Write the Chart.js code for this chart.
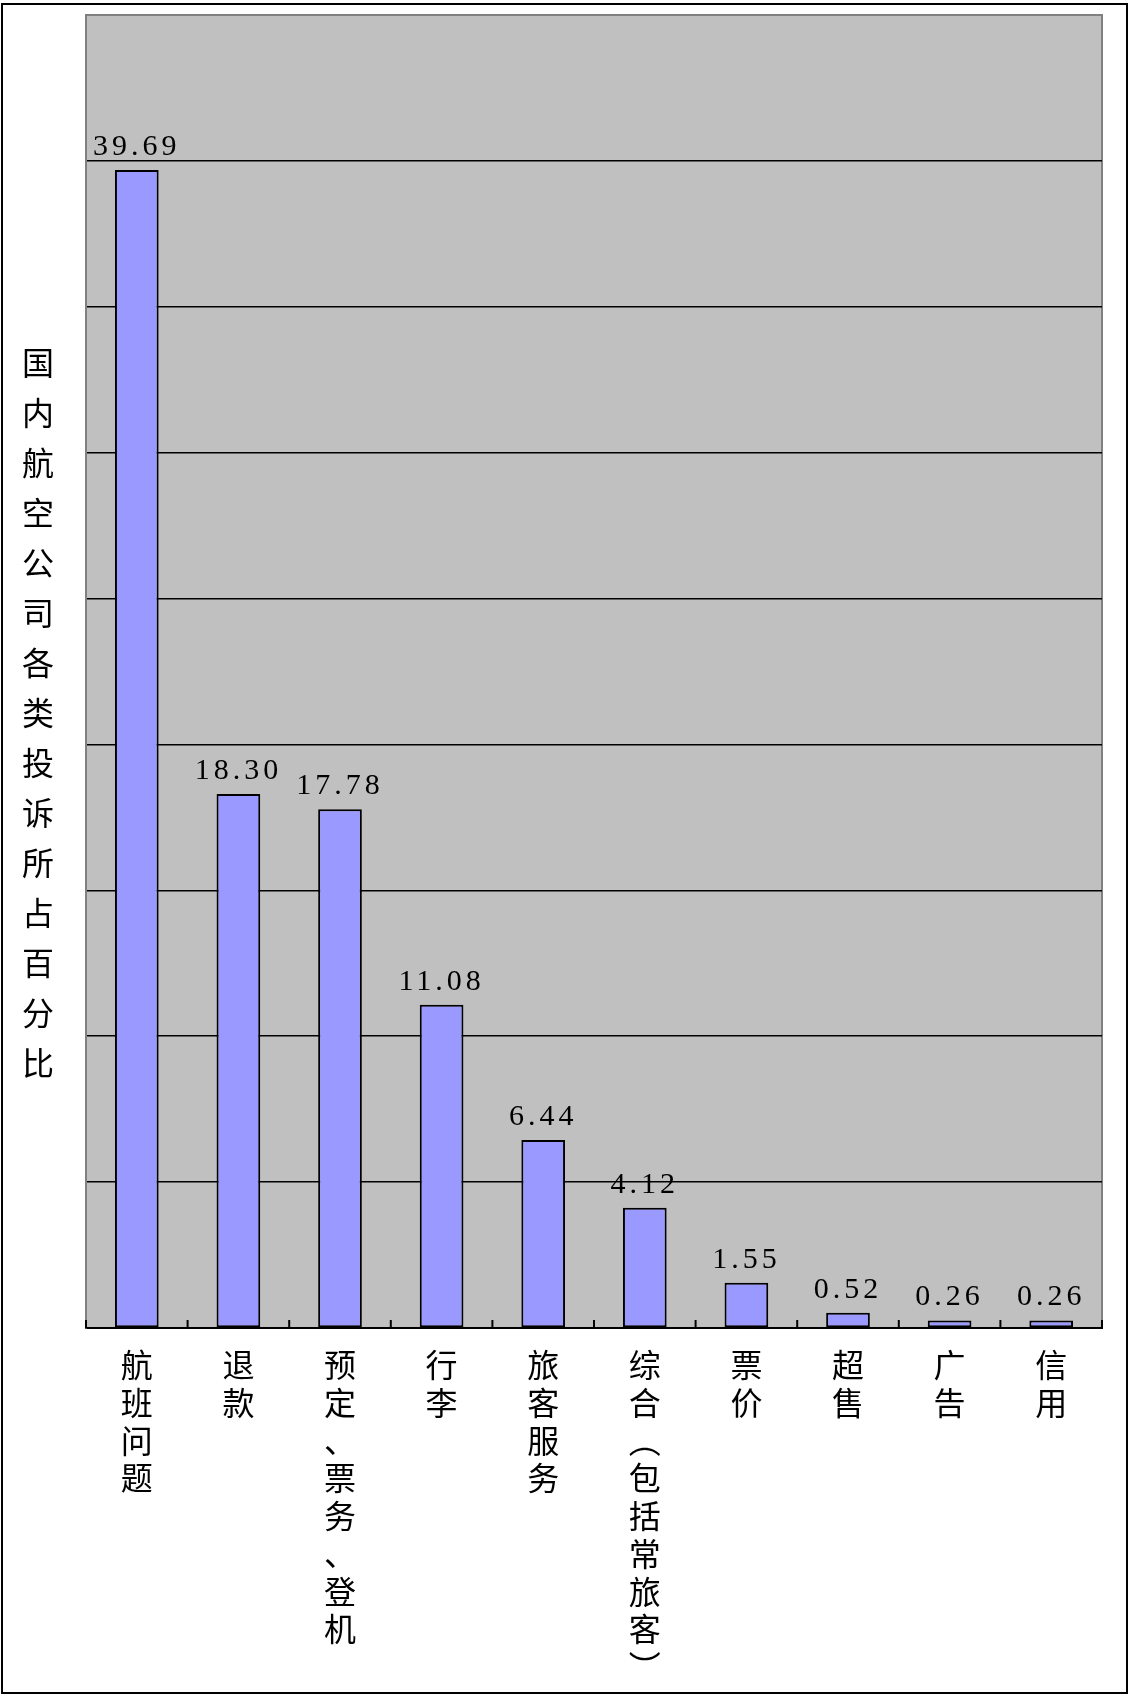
<!DOCTYPE html>
<html>
<head>
    <meta charset="utf-8">
    <title>国内航空公司各类投诉所占百分比</title>
    <script src="https://cdn.jsdelivr.net/npm/chart.js@4.4.0/dist/chart.umd.min.js"></script>
    <style>
        body {
            margin: 0;
            background: #fff;
        }
        .frame {
            position: absolute;
            left: 1px;
            top: 3px;
            width: 1127px;
            height: 1691px;
            box-sizing: border-box;
            border: 2px solid #000;
        }
        .chart-box {
            position: absolute;
            left: 0;
            top: 0;
            width: 1130px;
            height: 1695px;
        }
    </style>
</head>
<body>
    <div class="frame"></div>
    <div class="chart-box"><canvas id="complaintChart"></canvas></div>

    <script>
        // data
        const categories = ['航班问题', '退款', '预定、票务、登机', '行李', '旅客服务', '综合（包括常旅客）', '票价', '超售', '广告', '信用'];
        const values = [39.69, 18.30, 17.78, 11.08, 6.44, 4.12, 1.55, 0.52, 0.26, 0.26];
        const yTitle = '国内航空公司各类投诉所占百分比';
        const yMin = 0, yMax = 45, yStep = 5;

        const cjkFont = '"Noto Sans CJK SC", sans-serif';

        // stack the characters one per line, brackets turned to their vertical forms
        const verticalForms = { '（': '︵', '）': '︶' };
        const toVertical = s => Array.from(s).map(c => verticalForms[c] || c);

        const plotBg = {
            id: 'plotBg',
            beforeDraw(chart) {
                const { ctx, chartArea: a } = chart;
                ctx.save();
                ctx.fillStyle = '#C0C0C0';
                ctx.fillRect(a.left, a.top, a.width, a.height);
                ctx.strokeStyle = '#808080';
                ctx.lineWidth = 2;
                ctx.strokeRect(a.left, a.top, a.width, a.height);
                ctx.restore();
            }
        };

        // short ticks pointing up from the axis at category boundaries
        const innerTicks = {
            id: 'innerTicks',
            afterDraw(chart) {
                const { ctx } = chart;
                const x = chart.scales.x;
                const y = chart.scales.y;
                const step = x.getPixelForValue(1) - x.getPixelForValue(0);
                const base = y.getPixelForValue(0);
                ctx.save();
                ctx.strokeStyle = '#000';
                ctx.lineWidth = 2;
                for (let i = 0; i <= categories.length; i++) {
                    const px = x.getPixelForValue(i) - step / 2;
                    ctx.beginPath();
                    ctx.moveTo(px, base);
                    ctx.lineTo(px, base - 8);
                    ctx.stroke();
                }
                ctx.restore();
            }
        };

        const valueLabels = {
            id: 'valueLabels',
            afterDatasetsDraw(chart) {
                const { ctx } = chart;
                const meta = chart.getDatasetMeta(0);
                const spacing = 4;
                ctx.save();
                ctx.fillStyle = '#000';
                ctx.font = '30px "Liberation Serif", serif';
                ctx.letterSpacing = spacing + 'px';
                ctx.textAlign = 'center';
                ctx.textBaseline = 'alphabetic';
                meta.data.forEach((bar, i) => {
                    ctx.fillText(values[i].toFixed(2), bar.x + spacing / 2 - 2, bar.y - 15);
                });
                ctx.restore();
            }
        };

        const verticalTitle = {
            id: 'verticalTitle',
            afterDraw(chart) {
                const { ctx } = chart;
                ctx.save();
                ctx.fillStyle = '#000';
                ctx.font = '32px ' + cjkFont;
                ctx.textAlign = 'center';
                ctx.textBaseline = 'middle';
                Array.from(yTitle).forEach((c, i) => {
                    ctx.fillText(c, 38, 363 + i * 50);
                });
                ctx.restore();
            }
        };

        new Chart(document.getElementById('complaintChart'), {
            type: 'bar',
            data: {
                labels: categories.map(toVertical),
                datasets: [{
                    data: values,
                    backgroundColor: '#9999FF',
                    borderColor: '#000',
                    borderWidth: 2,
                    borderSkipped: false,
                    barPercentage: 0.86,
                    categoryPercentage: 0.5
                }]
            },
            options: {
                maintainAspectRatio: false,
                animation: false,
                layout: { padding: { left: 86, top: 15, right: 28, bottom: 27 } },
                plugins: {
                    legend: { display: false },
                    tooltip: { enabled: false }
                },
                scales: {
                    x: {
                        grid: { display: false },
                        border: { color: '#000', width: 2 },
                        ticks: {
                            color: '#000',
                            font: { family: cjkFont, size: 32, lineHeight: 1.18 },
                            padding: 10,
                            maxRotation: 0,
                            minRotation: 0,
                            autoSkip: false
                        },
                        afterFit(scale) { scale.height = 340; }
                    },
                    y: {
                        min: yMin,
                        max: yMax,
                        ticks: { stepSize: yStep, display: false },
                        grid: {
                            drawTicks: false,
                            color: c => c.tick.value === yMax ? 'rgba(0,0,0,0)' : '#000',
                            lineWidth: 1.5
                        },
                        border: { color: '#808080', width: 2 },
                        afterFit(scale) { scale.width = 0; }
                    }
                }
            },
            plugins: [plotBg, innerTicks, valueLabels, verticalTitle]
        });
    </script>
</body>
</html>
